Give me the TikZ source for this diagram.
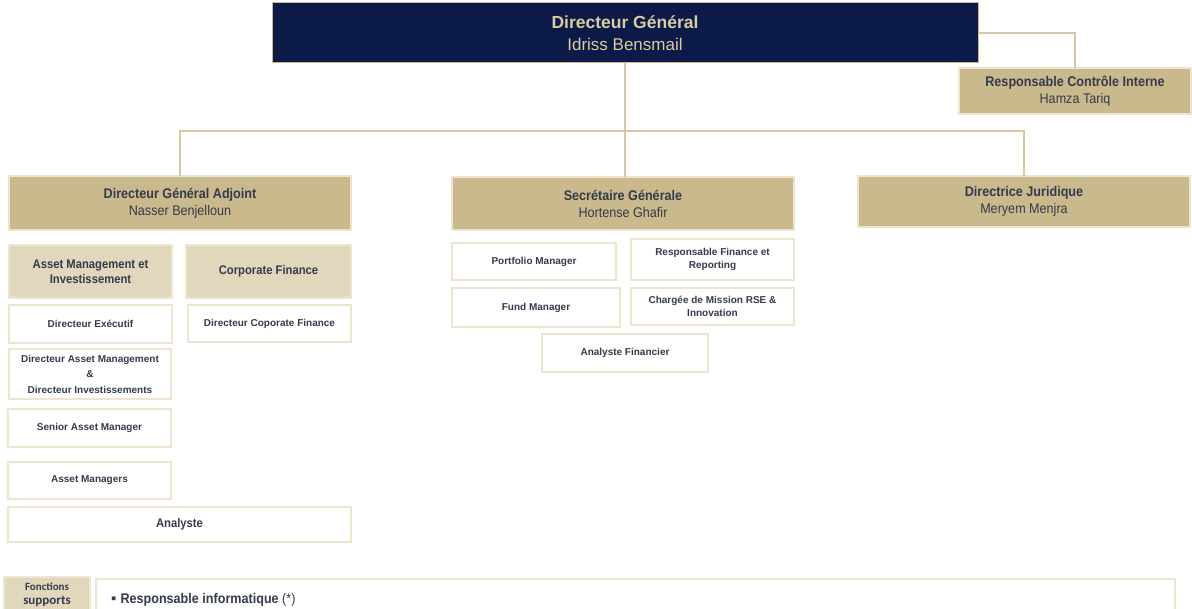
\documentclass[tikz,border=0pt]{standalone}
\usepackage{fontspec}
\setmainfont{Liberation Sans}
\newfontfamily\narrowfont[FakeStretch=0.9]{Liberation Sans}
\newfontfamily\supfont{Carlito}
\usepackage{xcolor}
\usetikzlibrary{positioning,calc}

\definecolor{navy}{HTML}{0B1A47}
\definecolor{gold}{HTML}{D9CBA2}
\definecolor{tan}{HTML}{C9B98C}
\definecolor{sand}{HTML}{E1D7BD}
\definecolor{rim}{HTML}{EEE5CF}
\definecolor{ink}{HTML}{343B4B}
\definecolor{wirecol}{HTML}{D6C8A2}

\begin{document}
\begin{tikzpicture}[x=1pt,y=-1pt,
    box/.style={anchor=north west, inner sep=0pt, outer sep=0pt, align=center, text=ink, line width=1.5pt, draw=rim},
    head/.style={box, fill=tan, font=\narrowfont\bfseries\fontsize{14}{17}\selectfont},
    unit/.style={box, fill=sand, font=\narrowfont\bfseries\fontsize{12.5}{15}\selectfont},
    role/.style={box, fill=white, font=\bfseries\fontsize{10}{13}\selectfont},
    link/.style={draw=wirecol, line width=1.2pt}]
    \useasboundingbox (0,0) rectangle (1192,609);
    \clip (0,0) rectangle (1192,609);

    % Top
    \node[box, fill=navy, draw=tan, line width=1pt, text=gold, minimum width=706, minimum height=60,
          font=\bfseries\fontsize{17.5}{22}\selectfont] (dg) at (272,3)
          {Directeur Général\\\mdseries\fontsize{17}{22}\selectfont Idriss Bensmail};
    \node[head, minimum width=232, minimum height=46] (rci) at (959,68)
          {Responsable Contrôle Interne\\\mdseries Hamza Tariq};

    % Second level
    \node[head, minimum width=342, minimum height=54] (dga) at (9,176)
          {Directeur Général Adjoint\\\mdseries Nasser Benjelloun};
    \node[head, minimum width=342, minimum height=53] (sg) at (452,177)
          {Secrétaire Générale\\\mdseries Hortense Ghafir};
    \node[head, minimum width=332, minimum height=51] (dj) at (858,176)
          {Directrice Juridique\\\mdseries Meryem Menjra};

    % Links
    \draw[link] (dg.east) -| (rci.north);
    \draw[link] (dg.south) -- (dg.south |- sg.north);
    \coordinate (bus) at ($(dg.south)+(0,68)$);
    \draw[link] (dga.north) |- (bus) -| (dj.north);

    % Adjoint side
    \node[unit, minimum width=163, minimum height=53] (am) at (9,245)
          {Asset Management et\\Investissement};
    \node[unit, minimum width=165, minimum height=53] (cf) at (186,245) {Corporate Finance};
    \node[role, minimum width=163, minimum height=38] (dexe) at (9,305) {Directeur Exécutif};
    \node[role, minimum width=163, minimum height=37] (dcf) at (188,305) {Directeur Coporate Finance};
    \node[role, minimum width=162, minimum height=50, font=\bfseries\fontsize{10}{15.5}\selectfont] (dami) at (9,349)
          {Directeur Asset Management\\\&\\Directeur Investissements};
    \node[role, minimum width=163, minimum height=38] (sam) at (8,409) {Senior Asset Manager};
    \node[role, minimum width=163, minimum height=37] (amg) at (8,462) {Asset Managers};
    \node[role, minimum width=343, minimum height=35, font=\narrowfont\bfseries\fontsize{12.5}{15}\selectfont] (ana) at (8,507) {Analyste};

    % General secretary side
    \node[role, minimum width=164, minimum height=37] (pm) at (452,243) {Portfolio Manager};
    \node[role, minimum width=163, minimum height=41] (rfr) at (631,239) {Responsable Finance et\\Reporting};
    \node[role, minimum width=168, minimum height=39] (fm) at (452,288) {Fund Manager};
    \node[role, minimum width=163, minimum height=37] (cmr) at (631,288) {Chargée de Mission RSE \&\\Innovation};
    \node[role, minimum width=166, minimum height=38] (anf) at (542,334) {Analyste Financier};

    % Support functions
    \node[box, fill=sand, minimum width=86, minimum height=36, font=\supfont\bfseries\fontsize{11}{14}\selectfont] (fs) at (4,577)
          {Fonctions\\\fontsize{13}{14}\selectfont supports};
    \node[box, fill=white, minimum width=1079, minimum height=40] (it) at (96,579) {};
    \node[anchor=west, inner sep=0pt, text=ink, font=\narrowfont\bfseries\fontsize{14}{17}\selectfont] (itlabel) at ($(it.north west)+(15,21)$)
          {\normalfont\fontsize{15}{17}\selectfont ▪\hspace{4pt}\narrowfont\bfseries\fontsize{14}{17}\selectfont Responsable informatique \mdseries(*)};
\end{tikzpicture}
\end{document}
